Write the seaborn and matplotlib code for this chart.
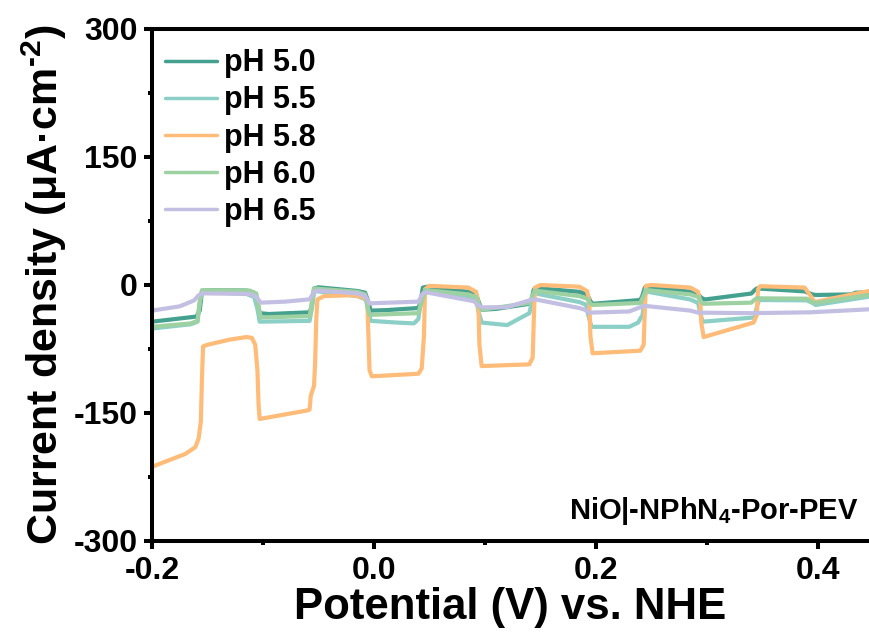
import numpy as np
import pandas as pd
import matplotlib
matplotlib.use("Agg")
import matplotlib.pyplot as plt
import seaborn as sns
from matplotlib.ticker import MultipleLocator
from matplotlib.lines import Line2D

# ---------------- data ----------------
labels = ["pH 5.0", "pH 5.5", "pH 5.8", "pH 6.0", "pH 6.5"]
colors = ["#44a08f", "#8ccfc6", "#ffbb78", "#9dd1a2", "#c3bfe2"]

x_ph50 = [-0.200, -0.160, -0.157, -0.155, -0.150, -0.115, -0.108, -0.105, -0.103, -0.095, -0.058, -0.056, -0.054, -0.050,
          -0.015, -0.008, -0.005, -0.003, 0.010, 0.040, 0.042, 0.044, 0.048, 0.085, 0.092, 0.095, 0.097, 0.110, 0.140,
          0.142, 0.144, 0.150, 0.185, 0.192, 0.195, 0.197, 0.240, 0.242, 0.244, 0.250, 0.285, 0.292, 0.295, 0.298, 0.340,
          0.343, 0.345, 0.388, 0.395, 0.398, 0.430, 0.434, 0.446]
j_ph50 = [-43, -37, -30, -8, -6, -6.5, -9, -20, -33, -34, -32, -25, -4, -2.7,
          -7, -9, -20, -30, -29.5, -27, -20, -3, -2, -8, -11, -22, -29, -28, -22,
          -17, -5, -4, -8, -11, -19, -22, -17.6, -12, -3, -2, -8, -11, -15, -17, -10,
          -6, -4, -7.5, -11, -11.7, -11, -9, -8.6]

x_ph55 = [-0.200, -0.165, -0.159, -0.157, -0.155, -0.115, -0.108, -0.105, -0.103, -0.058, -0.056, -0.054, -0.015, -0.007,
          -0.005, -0.003, 0.020, 0.036, 0.040, 0.043, 0.046, 0.085, 0.092, 0.094, 0.097, 0.120, 0.140, 0.143, 0.145, 0.185,
          0.191, 0.193, 0.196, 0.230, 0.238, 0.242, 0.244, 0.246, 0.285, 0.292, 0.294, 0.296, 0.343, 0.345, 0.347, 0.390,
          0.395, 0.398, 0.446]
j_ph55 = [-51, -46, -43, -20, -8, -10.5, -14, -28, -43, -42, -28, -7, -13, -17,
          -30, -42, -44, -45, -40, -12, -7.8, -13, -17, -30, -44, -47, -33, -15, -9.8, -20,
          -23, -35, -49, -49, -44, -35, -12, -7.8, -17, -21, -33, -43, -38, -25, -17.6, -18,
          -21, -23.4, -13.7]

x_ph58 = [-0.200, -0.170, -0.161, -0.158, -0.156, -0.155, -0.154, -0.150, -0.130, -0.115, -0.110, -0.107, -0.105, -0.104,
          -0.103, -0.060, -0.058, -0.057, -0.055, -0.054, -0.053, -0.052, -0.051, -0.045, -0.020, -0.010, -0.006, -0.005,
          -0.004, -0.002, 0.040, 0.043, 0.045, 0.046, 0.050, 0.085, 0.092, 0.094, 0.095, 0.097, 0.140, 0.143, 0.144, 0.145,
          0.150, 0.185, 0.192, 0.194, 0.195, 0.197, 0.240, 0.243, 0.244, 0.245, 0.250, 0.285, 0.292, 0.294, 0.295, 0.297,
          0.342, 0.345, 0.346, 0.348, 0.388, 0.393, 0.397, 0.446]
j_ph58 = [-213, -198, -190, -180, -160, -110, -72, -70, -64, -61, -62, -70, -100, -140,
          -157, -147, -146, -130, -122, -118, -90, -40, -17, -13, -12, -14, -20, -60,
          -100, -107, -104, -98, -60, -5, -1, -3, -8, -20, -70, -95, -93, -85, -40, -3,
          0, -2, -7, -20, -60, -80, -77, -70, -30, -1, 0, -3, -8, -20, -45, -61,
          -44, -35, -5, -1.4, -3, -12, -20, -7]

x_ph60 = [-0.200, -0.165, -0.159, -0.157, -0.155, -0.112, -0.106, -0.104, -0.102, -0.058, -0.056, -0.054, -0.015, -0.008,
          -0.006, -0.004, 0.040, 0.043, 0.046, 0.085, 0.092, 0.095, 0.097, 0.140, 0.143, 0.145, 0.185, 0.192, 0.195, 0.197,
          0.240, 0.243, 0.245, 0.285, 0.292, 0.295, 0.297, 0.340, 0.343, 0.345, 0.390, 0.395, 0.398, 0.446]
j_ph60 = [-49, -45, -42, -20, -6, -6.5, -10, -25, -38, -36.5, -20, -4, -8, -11,
          -25, -35, -33, -20, -5.9, -11, -14, -25, -29, -21, -12, -6.6, -13, -16, -22, -23.4,
          -21, -12, -5.9, -11, -14, -20, -22, -20.7, -17, -15.6, -16, -20, -21, -11.7]

x_ph65 = [-0.200, -0.175, -0.162, -0.158, -0.154, -0.112, -0.106, -0.102, -0.080, -0.058, -0.054, -0.050, -0.015, -0.008,
          -0.004, 0.040, 0.044, 0.047, 0.090, 0.094, 0.098, 0.120, 0.140, 0.145, 0.185, 0.190, 0.194, 0.230, 0.240, 0.245,
          0.285, 0.292, 0.340, 0.393, 0.446]
j_ph65 = [-30, -25, -18, -12, -9.8, -10.5, -14, -20.7, -19.5, -16.8, -8, -6.6, -9.8, -13,
          -21.5, -19.5, -10, -8.6, -19, -24, -26.2, -26, -18, -16.8, -27, -29, -32.4, -31, -26, -24.6,
          -30, -32.4, -33, -32, -28.5]

x_ticks = [-0.2, 0.0, 0.2, 0.4]
y_ticks = [-300, -150, 0, 150, 300]
annotation = "NiO|-NPhN$_4$-Por-PEV"

# ---------------- build frame ----------------
series_x = [x_ph50, x_ph55, x_ph58, x_ph60, x_ph65]
series_j = [j_ph50, j_ph55, j_ph58, j_ph60, j_ph65]
frames = []
for lab, xs, js in zip(labels, series_x, series_j):
    frames.append(pd.DataFrame({"V": xs, "J": js, "pH": lab}))
df = pd.concat(frames, ignore_index=True)

# ---------------- style ----------------
sns.set_style("ticks")
plt.rcParams["font.family"] = ["Liberation Sans", "DejaVu Sans"]
plt.rcParams["font.weight"] = "bold"
plt.rcParams["mathtext.fontset"] = "custom"
plt.rcParams["mathtext.rm"] = "Liberation Sans:bold"
plt.rcParams["mathtext.it"] = "Liberation Sans:bold"
plt.rcParams["mathtext.bf"] = "Liberation Sans:bold"
plt.rcParams["mathtext.default"] = "bf"
plt.rcParams["axes.unicode_minus"] = False
for k in ["text.color", "axes.labelcolor", "xtick.color", "ytick.color", "axes.edgecolor"]:
    plt.rcParams[k] = "black"

W, H = 869, 643
fig = plt.figure(figsize=(W / 100, H / 100), dpi=100)
ax = fig.add_axes([152 / W, (H - 541) / H, (W - 152) / W, (541 - 29) / H])

sns.lineplot(data=df, x="V", y="J", hue="pH", palette=dict(zip(labels, colors)),
             sort=False, estimator=None, linewidth=3.0, ax=ax, legend=False)

ax.set_xlim(-0.2, 0.446)
ax.set_ylim(-300, 300)
ax.set_xticks(x_ticks)
ax.set_xticklabels([f"{v:.1f}" for v in x_ticks])
ax.set_yticks(y_ticks)
ax.set_yticklabels([str(v) for v in y_ticks])
ax.xaxis.set_minor_locator(MultipleLocator(0.1))
ax.yaxis.set_minor_locator(MultipleLocator(75))

for s in ["left", "bottom", "top"]:
    ax.spines[s].set_linewidth(2.9)
    ax.spines[s].set_color("black")
ax.spines["right"].set_visible(False)

ax.tick_params(axis="both", which="major", direction="out", length=5.5, width=2.9,
               labelsize=23, pad=5, top=False, right=False, colors="black")
ax.tick_params(axis="both", which="minor", direction="out", length=3, width=2.9,
               top=False, right=False, colors="black")
for lbl in ax.get_xticklabels() + ax.get_yticklabels():
    lbl.set_fontweight("bold")

ax.set_xlabel("Potential (V) vs. NHE", fontsize=31.5, fontweight="bold", labelpad=1, color="black")
ax.set_ylabel("Current density (μA·cm$^{\\text{-}2}$)", fontsize=31, fontweight="bold",
              labelpad=3, color="black")

# legend
handles = [Line2D([0], [0], color=c, lw=2.5) for c in colors]
leg = ax.legend(handles, labels, loc="upper left", frameon=False,
                prop={"size": 22, "weight": "bold"}, handlelength=1.7,
                handletextpad=0.25, labelspacing=0.23, borderaxespad=0.0, borderpad=0.0,
                bbox_to_anchor=(0.018, 0.962))
for t in leg.get_texts():
    t.set_color("black")

ax.text(0.985, 0.028, annotation, transform=ax.transAxes, ha="right", va="bottom",
        fontsize=21, fontweight="bold", color="black")

fig.savefig("out.png", dpi=100)
